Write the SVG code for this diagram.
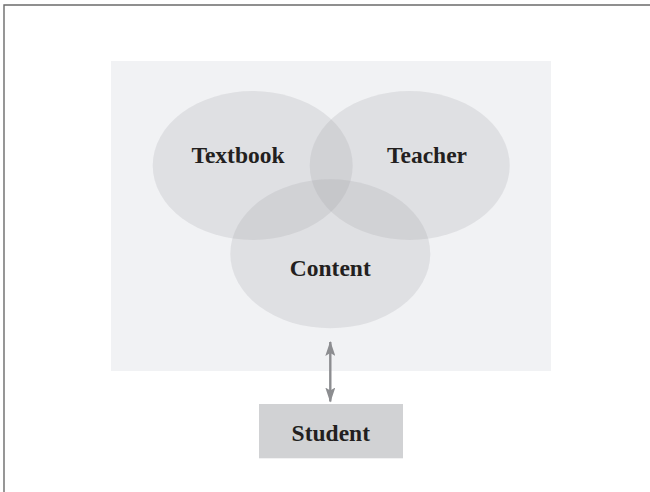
<svg xmlns="http://www.w3.org/2000/svg" width="650" height="492" viewBox="0 0 650 492">
<style>
.lbl{font-family:"Liberation Serif","Times New Roman",serif;font-weight:bold;font-size:23.5px;fill:#231f20;text-anchor:middle}
.venn{fill:#9a9ca0;fill-opacity:0.2}
</style>
<defs>
<marker id="ah" viewBox="0 0 15 10" refX="14" refY="5" markerWidth="6.25" markerHeight="4.2" markerUnits="strokeWidth" orient="auto-start-reverse">
<path d="M0,0 L15,5 L0,10 L3,5 Z" fill="#8c8d90"/>
</marker>
</defs>
<rect x="0" y="0" width="650" height="492" fill="#ffffff"/>
<path d="M4,492 V5 H650" fill="none" stroke="#6b6b6b" stroke-width="1.4"/>
<rect id="context" x="111" y="61" width="440" height="310" fill="#f1f2f4"/>
<g id="textbook">
<ellipse class="venn" cx="252.7" cy="165.5" rx="100" ry="74.5"/>
<text class="lbl" x="238" y="163">Textbook</text>
</g>
<g id="teacher">
<ellipse class="venn" cx="409.7" cy="165.5" rx="100" ry="74.5"/>
<text class="lbl" x="427" y="163">Teacher</text>
</g>
<g id="content">
<ellipse class="venn" cx="330.3" cy="253.8" rx="100" ry="74.5"/>
<text class="lbl" x="330.3" y="276">Content</text>
</g>
<g id="student">
<rect x="259" y="404" width="144" height="54.3" fill="#d1d2d4"/>
<text class="lbl" x="330.8" y="440.5">Student</text>
</g>
<g id="connectors">
<line x1="330.3" y1="342" x2="330.3" y2="401.5" stroke="#8c8d90" stroke-width="2.4" marker-start="url(#ah)" marker-end="url(#ah)"/>
</g>
</svg>
